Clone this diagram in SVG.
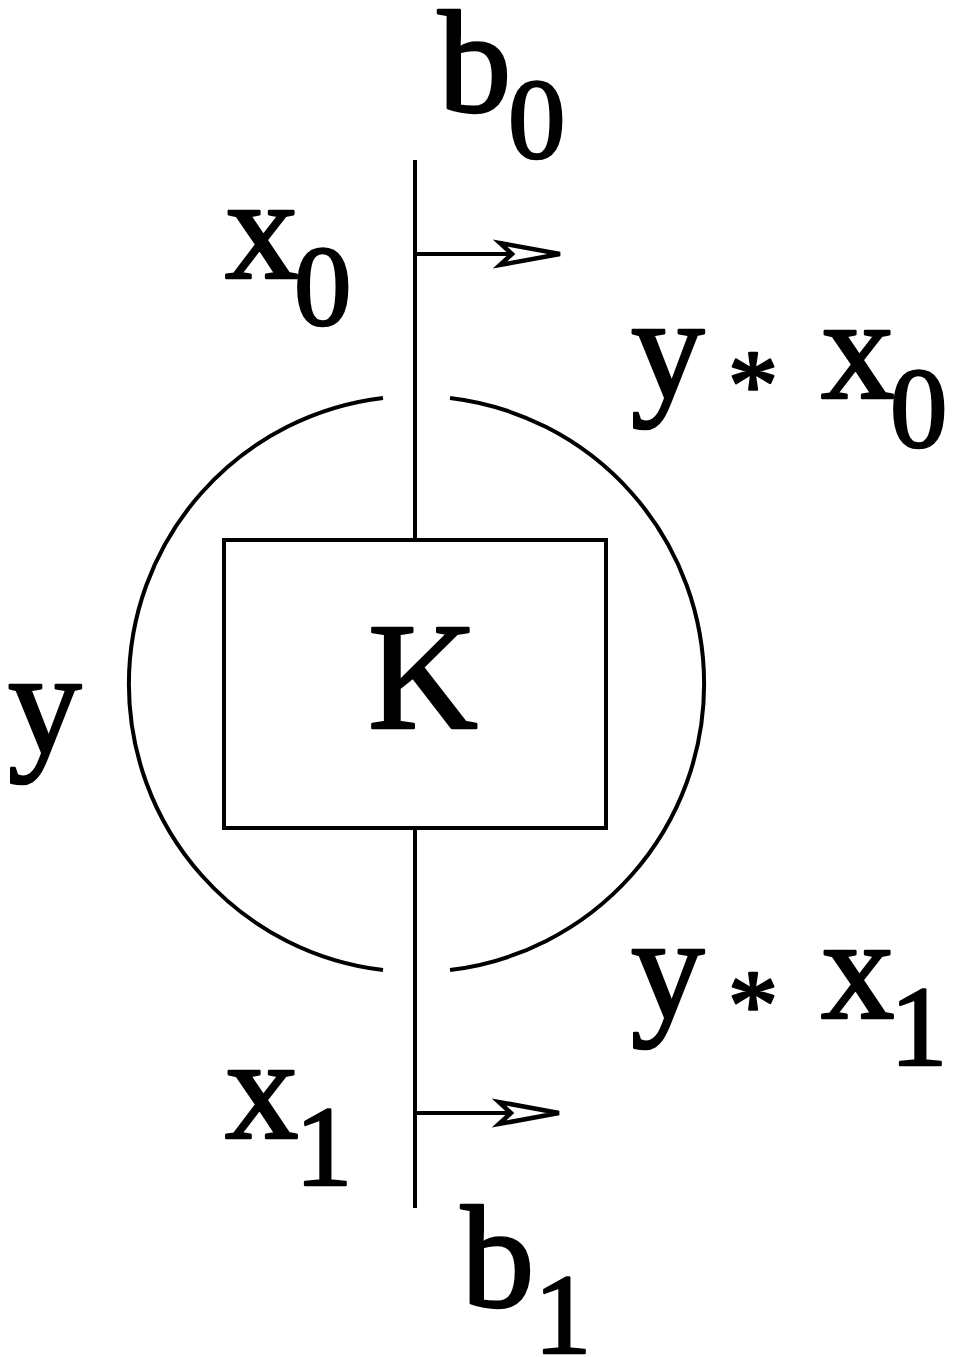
<svg xmlns="http://www.w3.org/2000/svg" width="956" height="1357" viewBox="0 0 956 1357">
<defs>
<style>
.ln{stroke:#000;stroke-width:4;fill:none}
.t{font-family:"Liberation Serif",serif;fill:#000;stroke:#000;stroke-width:2.5;stroke-linejoin:round}
.m{font-size:147px}
.s{font-size:115px}
.a{font-size:100px}
</style>
<marker id="ah" markerUnits="userSpaceOnUse" markerWidth="80" markerHeight="40" refX="0" refY="0" viewBox="-20 -20 80 40" orient="auto" overflow="visible">
<path d="M48,0 L-12,-11 L0,0 L-12,11 Z" fill="#fff" stroke="#000" stroke-width="4.5" stroke-linejoin="miter"/>
</marker>
</defs>
<rect width="956" height="1357" fill="#fff"/>
<g id="connectors">
<line class="ln" x1="415" y1="160" x2="415" y2="540"/>
<line class="ln" x1="415" y1="828" x2="415" y2="1208"/>
<line class="ln" x1="415" y1="254" x2="512" y2="254" marker-end="url(#ah)"/>
<line class="ln" x1="415" y1="1113" x2="511" y2="1113" marker-end="url(#ah)"/>
</g>
<g id="circle">
<path class="ln" d="M383,398 A288,288 0 0 0 383,970"/>
<path class="ln" d="M450,398 A288,288 0 0 1 450,970"/>
</g>
<g id="K">
<rect class="ln" x="224" y="540" width="382" height="288"/>
<text class="t" x="368" y="728" font-size="152">K</text>
</g>
<g id="b0">
<text class="t m" x="438" y="112">b</text>
<text class="t s" x="508" y="158">0</text>
</g>
<g id="x0">
<text class="t m" x="225" y="278">x</text>
<text class="t s" x="294" y="325">0</text>
</g>
<g id="y">
<text class="t m" x="8" y="753">y</text>
</g>
<g id="yx0">
<text class="t m" x="631" y="398">y</text>
<text class="t a" x="728" y="418">*</text>
<text class="t m" x="821" y="398">x</text>
<text class="t s" x="890" y="447">0</text>
</g>
<g id="yx1">
<text class="t m" x="631" y="1018">y</text>
<text class="t a" x="728" y="1038">*</text>
<text class="t m" x="821" y="1018">x</text>
<text class="t s" x="890" y="1065">1</text>
</g>
<g id="x1">
<text class="t m" x="225" y="1138">x</text>
<text class="t s" x="295" y="1185">1</text>
</g>
<g id="b1">
<text class="t m" x="461" y="1307">b</text>
<text class="t s" x="534" y="1353">1</text>
</g>
</svg>
